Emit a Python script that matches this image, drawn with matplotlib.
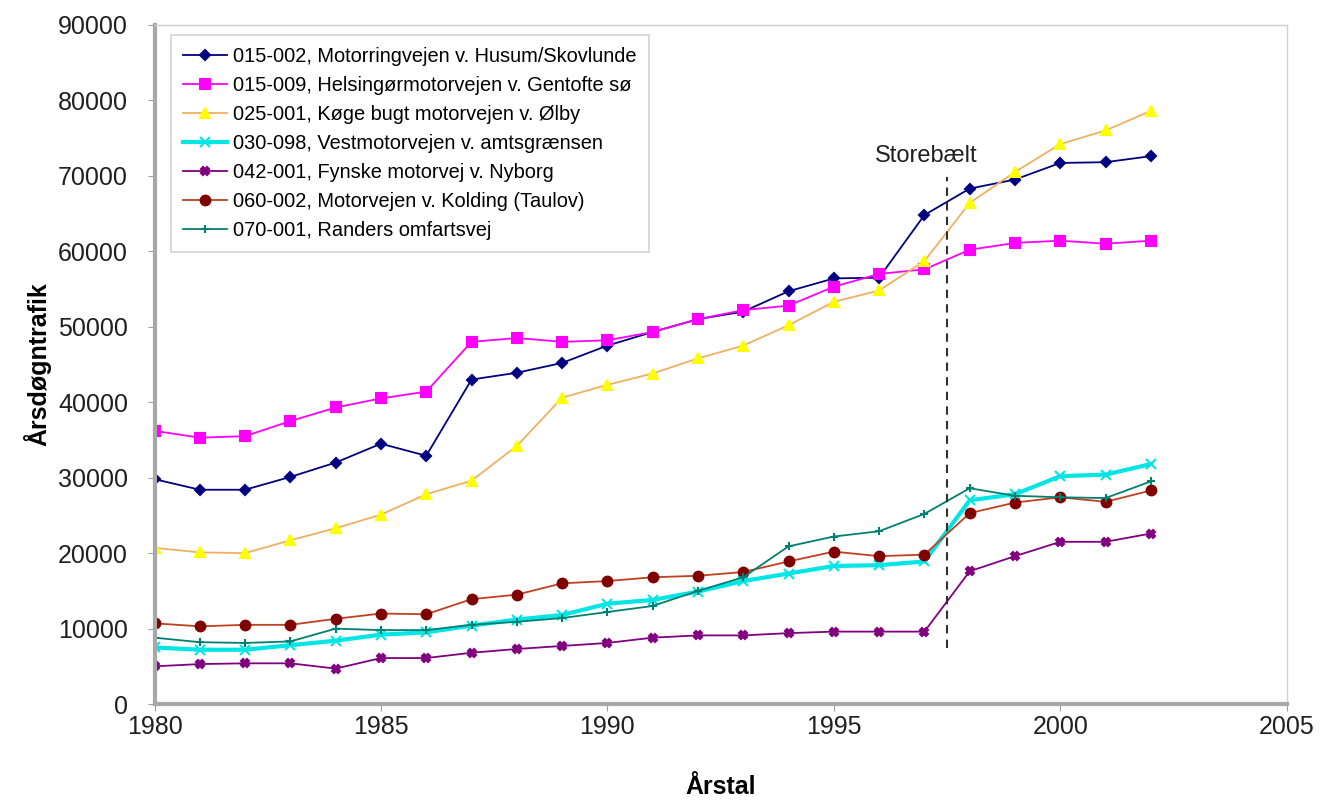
import numpy as np
import matplotlib
matplotlib.use("Agg")
import matplotlib.pyplot as plt

plt.rcParams['font.family'] = ['Liberation Sans', 'DejaVu Sans']

years = np.arange(1980, 2003)

labels = [
    "015-002, Motorringvejen v. Husum/Skovlunde",
    "015-009, Helsingørmotorvejen v. Gentofte sø",
    "025-001, Køge bugt motorvejen v. Ølby",
    "030-098, Vestmotorvejen v. amtsgrænsen",
    "042-001, Fynske motorvej v. Nyborg",
    "060-002, Motorvejen v. Kolding (Taulov)",
    "070-001, Randers omfartsvej",
]

husum = [29800, 28400, 28400, 30100, 32000, 34500, 32900, 43000, 43900, 45200, 47500, 49300,
         51000, 52000, 54700, 56400, 56500, 64800, 68300, 69500, 71700, 71800, 72600]
gentofte = [36200, 35300, 35500, 37500, 39300, 40500, 41400, 48000, 48500, 48000, 48200, 49300,
            51000, 52200, 52800, 55300, 57000, 57600, 60200, 61100, 61400, 61000, 61400]
olby = [20700, 20100, 20000, 21700, 23300, 25100, 27800, 29600, 34200, 40600, 42300, 43800,
        45800, 47500, 50200, 53300, 54800, 58700, 66400, 70500, 74200, 76000, 78600]
amtsgr = [7500, 7200, 7200, 7800, 8400, 9200, 9500, 10400, 11200, 11800, 13300, 13800,
          14900, 16300, 17300, 18300, 18400, 18900, 27000, 27800, 30200, 30400, 31800]
nyborg = [5000, 5300, 5400, 5400, 4700, 6100, 6100, 6800, 7300, 7700, 8100, 8800,
          9100, 9100, 9400, 9600, 9600, 9600, 17600, 19600, 21500, 21500, 22600]
kolding = [10700, 10300, 10500, 10500, 11300, 12000, 11900, 13900, 14500, 16000, 16300, 16800,
           17000, 17500, 18900, 20200, 19600, 19800, 25300, 26700, 27400, 26800, 28300]
randers = [8800, 8200, 8100, 8300, 10000, 9800, 9800, 10500, 10900, 11400, 12200, 13000,
           15000, 16800, 20900, 22200, 22900, 25200, 28600, 27600, 27400, 27300, 29500]

series = [husum, gentofte, olby, amtsgr, nyborg, kolding, randers]

# line colour, marker, marker face, marker size, line width
styles = [
    ("#000080", "D", "#000080", 5, 1.3),
    ("#FF00FF", "s", "#FF00FF", 7, 1.3),
    ("#F0B060", "^", "#FFFF00", 7, 1.3),
    ("#00E5E5", "x", "#00E5E5", 7, 3.0),
    ("#800080", "X", "#800080", 6, 1.3),
    ("#C04020", "o", "#800000", 7, 1.3),
    ("#008070", "+", "#008070", 6, 1.3),
]

fig = plt.figure(figsize=(13.32, 8.01), dpi=100)
ax = fig.add_axes([0.116, 0.121, 0.850, 0.848])

for vals, lab, (lc, mk, mf, ms, lw) in zip(series, labels, styles):
    ax.plot(years, vals, color=lc, linewidth=lw, marker=mk, markersize=ms,
            markerfacecolor=mf, markeredgecolor=mf, markeredgewidth=1.5, label=lab)

# Storebælt opening
ax.plot([1997.5, 1997.5], [7400, 69800], color="#303030", linestyle=(0, (4, 3)), linewidth=1.5)
ax.text(1997.05, 72600, "Storebælt", fontsize=17, ha="center", va="center", color="#202020")

ax.set_xlim(1980, 2005)
ax.set_ylim(0, 90000)
ax.set_xticks(np.arange(1980, 2006, 5))
ax.set_yticks(np.arange(0, 90001, 10000))
ax.tick_params(labelsize=18, colors="#202020", length=5, color="#A0A0A0")
ax.tick_params(axis="x", pad=3)
ax.tick_params(axis="y", pad=14)

for side in ["top", "right"]:
    ax.spines[side].set_color("#D0D0D0")
    ax.spines[side].set_linewidth(1.0)
for side in ["left", "bottom"]:
    ax.spines[side].set_color("#A8A8A8")
    ax.spines[side].set_linewidth(3.0)

ax.set_xlabel("Årstal", fontsize=18, fontweight="bold", labelpad=26)
ax.set_ylabel("Årsdøgntrafik", fontsize=18, fontweight="bold", labelpad=5)

leg = ax.legend(loc="upper left", bbox_to_anchor=(0.015, 0.985), borderaxespad=0,
                fontsize=14.4, frameon=True, fancybox=False, edgecolor="#C8C8C8",
                handlelength=2.2, labelspacing=0.5, borderpad=0.6, handletextpad=0.3)
leg.get_frame().set_linewidth(1.2)

fig.savefig("out.png", dpi=100)
